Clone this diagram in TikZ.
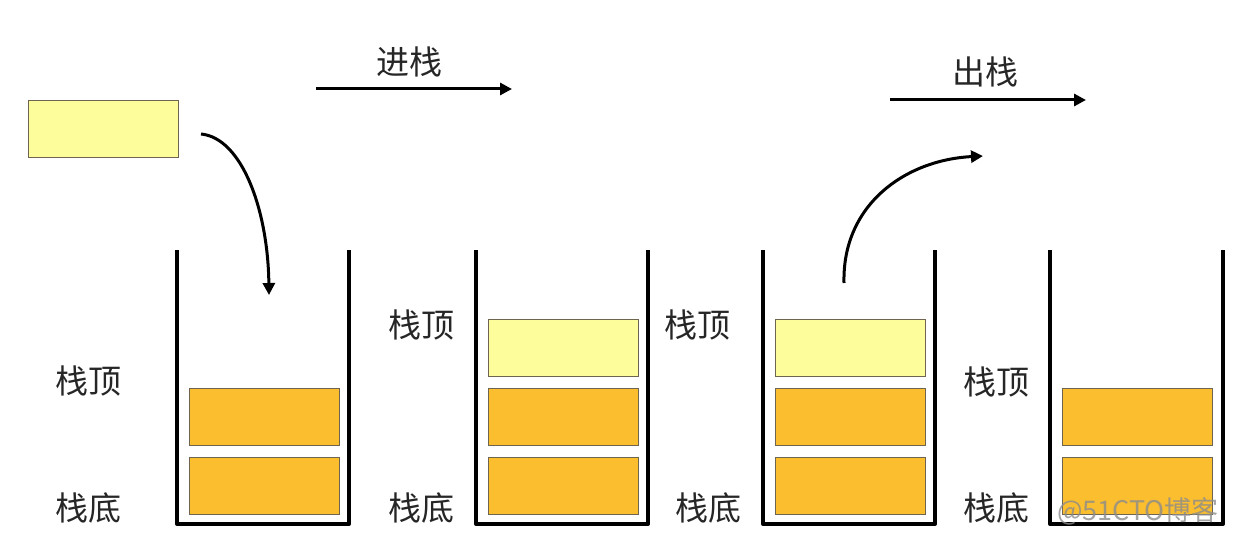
\documentclass[tikz,border=0pt]{standalone}
\usepackage{fontspec}
\newfontfamily\cjk{Noto Sans CJK SC}
\usetikzlibrary{arrows.meta}
\definecolor{lyel}{HTML}{FDFD9B}
\definecolor{oran}{HTML}{FBBE2E}
\definecolor{edge}{HTML}{6E6450}
\tikzset{
  wall/.style={line width=4pt, line join=round},
  item/.style={draw=edge, line width=1.2pt, minimum width=150pt, minimum height=57pt, inner sep=0pt, anchor=north west},
  newitem/.style={item, fill=lyel},
  olditem/.style={item, fill=oran},
  lbl/.style={font=\cjk\fontsize{33}{35}\selectfont, text=black!85, inner sep=0pt},
  arr/.style={line width=3pt, -{Triangle[length=12pt,width=12pt]}},
}
\begin{document}
\begin{tikzpicture}[x=1pt,y=-1pt]
\useasboundingbox (0,0) rectangle (1252,540);
\fill[white] (0,0) rectangle (1252,540);
% containers
\foreach \l/\r in {177/349, 476/648, 763/935, 1050/1223}{
  \draw[wall] (\l,250) -- (\l,524) -- (\r,524) -- (\r,250);
}
% items
\node[newitem] (free) at (28,100) {};
\node[olditem] (s1a) at (189,388) {};
\node[olditem] (s1b) at (189,457) {};
\node[newitem] (s2c) at (488,319) {};
\node[olditem] (s2a) at (488,388) {};
\node[olditem] (s2b) at (488,457) {};
\node[newitem] (s3c) at (775,319) {};
\node[olditem] (s3a) at (775,388) {};
\node[olditem] (s3b) at (775,457) {};
\node[olditem] (s4a) at (1062,388) {};
\node[olditem] (s4b) at (1062,457) {};
% labels
\node[lbl] (t1) at (88,381) {栈顶};
\node[lbl] (b1) at (88,508) {栈底};
\node[lbl] (t2) at (421,325) {栈顶};
\node[lbl] (b2) at (421,508) {栈底};
\node[lbl] (t3) at (697,325) {栈顶};
\node[lbl] (b3) at (708,508) {栈底};
\node[lbl] (t4) at (996,382) {栈顶};
\node[lbl] (b4) at (996,508) {栈底};
\node[lbl] (push) at (409,62) {进栈};
\node[lbl] (pop) at (985,72) {出栈};
% straight arrows
\coordinate (pa) at (316,89); \coordinate (pb) at (512,89);
\coordinate (qa) at (890,100); \coordinate (qb) at (1086,100);
\draw[arr] (pa) -- (pb);
\draw[arr] (qa) -- (qb);
% curved arrows
\coordinate (c1s) at (201,134); \coordinate (c1e) at (269,295);
\draw[arr] (c1s) .. controls (242,138) and (268,210) .. (c1e);
\coordinate (c2s) at (844,283); \coordinate (c2e) at (983,156);
\draw[arr] (c2s) .. controls (842,205) and (905,160) .. (c2e);
% watermark
\node[font=\cjk\fontsize{27}{29}\selectfont, text=black!45, opacity=0.8, inner sep=0pt] (wm) at (1138,511) {@51CTO博客};
\end{tikzpicture}
\end{document}
